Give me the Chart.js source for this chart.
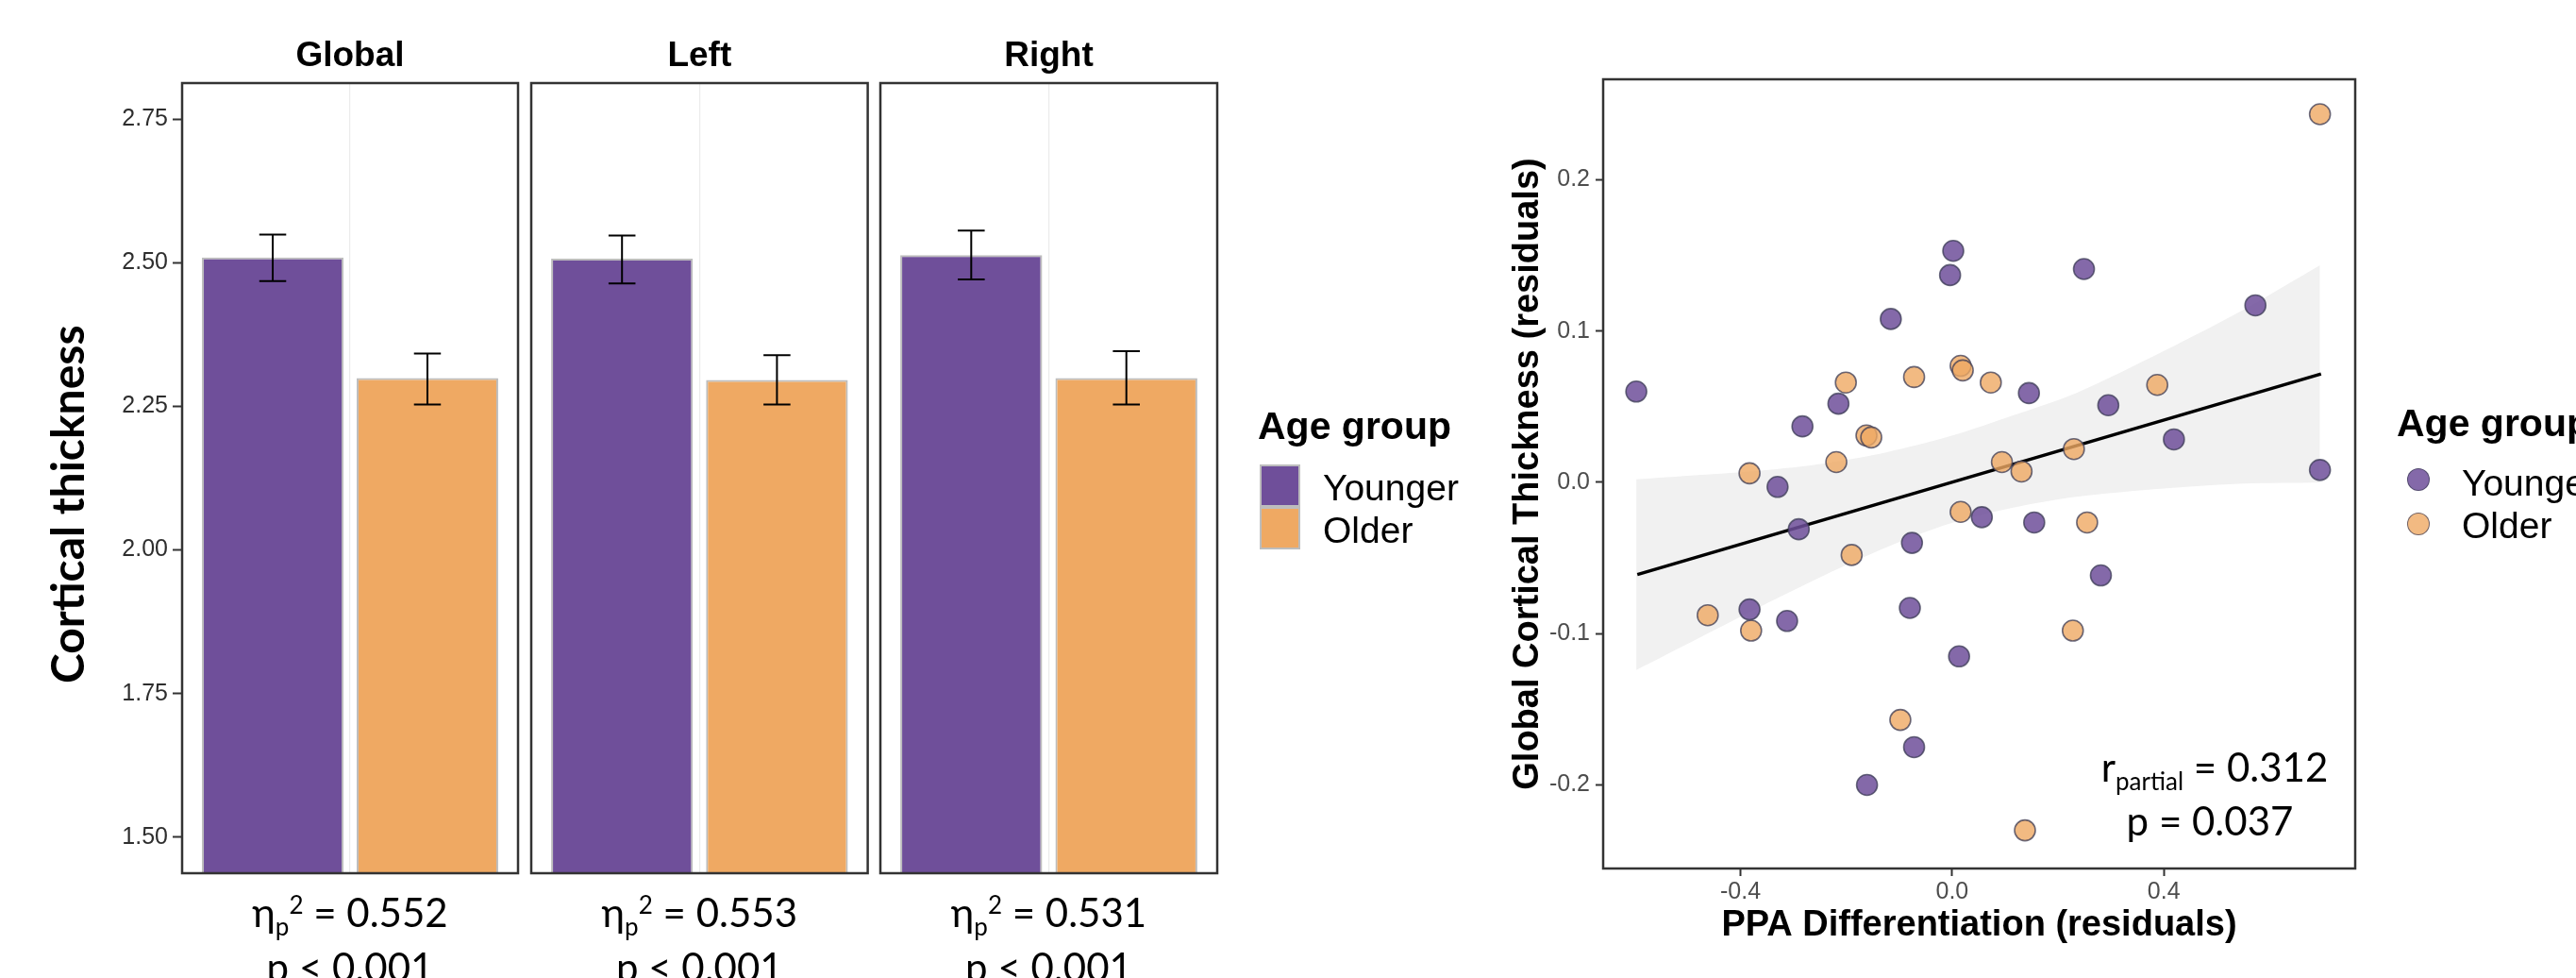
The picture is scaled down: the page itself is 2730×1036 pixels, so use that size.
<!DOCTYPE html>
<html><head><meta charset="utf-8">
<script src="https://cdn.jsdelivr.net/npm/chart.js@4.4.1/dist/chart.umd.min.js"></script>
<style>
html,body{margin:0;padding:0;width:2730px;height:1036px;overflow:hidden;background:#fff;}
canvas{position:absolute;top:0;}
.t{position:absolute;white-space:nowrap;line-height:1;color:#000;}
.box{position:absolute;box-sizing:border-box;}
</style></head><body>
<canvas id="cGlobal" width="556" height="1036" style="left:0px"></canvas>
<canvas id="cLeft" width="370" height="1036" style="left:556px"></canvas>
<canvas id="cRight" width="370" height="1036" style="left:926px"></canvas>
<canvas id="cScatter" width="1230" height="1036" style="left:1500px"></canvas>
<script>
// ---------------- data ----------------
const regions = ['Global', 'Left', 'Right'];
const groups = ['Younger', 'Older'];
const youngerMean = [2.509, 2.507, 2.513];
const youngerLow  = [2.468, 2.464, 2.471];
const youngerHigh = [2.549, 2.547, 2.556];
const olderMean   = [2.299, 2.296, 2.299];
const olderLow    = [2.253, 2.253, 2.253];
const olderHigh   = [2.342, 2.339, 2.346];
const etaValues = ['0.552', '0.553', '0.531'];
const pValues = ['< 0.001', '< 0.001', '< 0.001'];
const barTicks = [1.50, 1.75, 2.00, 2.25, 2.50, 2.75];
const barTickLabels = ['1.50', '1.75', '2.00', '2.25', '2.50', '2.75'];

const youngerX = [-0.597, 0.002, -0.004, 0.249, -0.116, 0.145, -0.215, 0.295, -0.283, -0.330, 0.056, 0.155, -0.290, -0.076, 0.281, -0.383, -0.080, -0.312, 0.013, -0.072, -0.161, 0.573, 0.419, 0.695];
const youngerY = [0.060, 0.153, 0.137, 0.141, 0.108, 0.059, 0.052, 0.051, 0.037, -0.003, -0.023, -0.0265, -0.031, -0.040, -0.0615, -0.084, -0.083, -0.0916, -0.115, -0.175, -0.200, 0.117, 0.0284, 0.0082];
const olderX = [0.016, 0.020, -0.201, -0.072, 0.073, -0.162, -0.153, -0.219, -0.383, 0.230, 0.094, 0.131, 0.016, 0.255, -0.190, -0.462, -0.380, 0.228, -0.098, 0.1375, 0.695, 0.3875];
const olderY = [0.077, 0.074, 0.066, 0.0696, 0.066, 0.031, 0.0297, 0.0134, 0.006, 0.022, 0.0134, 0.0072, -0.0195, -0.0265, -0.048, -0.0878, -0.098, -0.098, -0.157, -0.230, 0.2433, 0.0644];
const fitX = [-0.595, 0.697];
const fitY = [-0.0609, 0.0717];
const bandX     = [-0.597, -0.480, -0.361, -0.242, -0.123, -0.004, 0.115, 0.234, 0.40, 0.55, 0.695];
const bandUpper = [0.002, 0.0048, 0.0078, 0.0125, 0.0200, 0.0305, 0.0443, 0.059, 0.0868, 0.114, 0.1435];
const bandLower = [-0.124, -0.1031, -0.0819, -0.0615, -0.0428, -0.0272, -0.0167, -0.0095, -0.004, -0.0008, -0.0001];
const scatterXTicks = [-0.4, 0.0, 0.4];
const scatterXLabels = ['-0.4', '0.0', '0.4'];
const scatterYTicks = [-0.2, -0.1, 0.0, 0.1, 0.2];
const scatterYLabels = ['-0.2', '-0.1', '0.0', '0.1', '0.2'];
const rPartial = '0.312';
const pScatter = '0.037';

// ---------------- style ----------------
const PURPLE = '#6F4F9A', ORANGE = '#EFA963';
Chart.defaults.font.family = '"Liberation Sans", Arial, sans-serif';

const panelBorder = {
  id: 'panelBorder',
  afterDraw(chart) {
    const {ctx, chartArea: a} = chart;
    ctx.save(); ctx.strokeStyle = '#333'; ctx.lineWidth = 2.5;
    ctx.strokeRect(a.left, a.top, a.right - a.left, a.bottom - a.top);
    ctx.restore();
  }
};
function errorBars(idx) {
  return {
    id: 'errorBars',
    afterDatasetsDraw(chart) {
      const ctx = chart.ctx, ys = chart.scales.y;
      const lows = [youngerLow[idx], olderLow[idx]];
      const highs = [youngerHigh[idx], olderHigh[idx]];
      ctx.save(); ctx.strokeStyle = '#000'; ctx.lineWidth = 2;
      chart.data.datasets.forEach((ds, d) => {
        const bar = chart.getDatasetMeta(d).data[0];
        const x = bar.x, half = bar.width * 0.095;
        const yl = ys.getPixelForValue(lows[d]), yh = ys.getPixelForValue(highs[d]);
        ctx.beginPath();
        ctx.moveTo(x, yh); ctx.lineTo(x, yl);
        ctx.moveTo(x - half, yh); ctx.lineTo(x + half, yh);
        ctx.moveTo(x - half, yl); ctx.lineTo(x + half, yl);
        ctx.stroke();
      });
      ctx.restore();
    }
  };
}
function barChart(id, idx, showY, padL, padR) {
  return new Chart(document.getElementById(id), {
    type: 'bar',
    data: {
      labels: [regions[idx]],
      datasets: [
        {label: groups[0], data: [youngerMean[idx]], backgroundColor: PURPLE, borderColor: '#BDBDBD', borderWidth: 2, borderSkipped: 'start'},
        {label: groups[1], data: [olderMean[idx]], backgroundColor: ORANGE, borderColor: '#BDBDBD', borderWidth: 2, borderSkipped: 'start'}
      ]
    },
    options: {
      responsive: false, animation: false, devicePixelRatio: 1,
      layout: {padding: {top: 0, bottom: 111, left: padL, right: padR}},
      datasets: {bar: {categoryPercentage: 0.921, barPercentage: 0.915}},
      plugins: {
        legend: {display: false}, tooltip: {enabled: false},
        title: {display: true, fullSize: false, text: regions[idx], color: '#000', font: {size: 37, weight: 'bold'}, padding: {top: 37.5, bottom: 6.1}}
      },
      scales: {
        x: {display: true, offset: true, ticks: {display: false},
            grid: {display: true, offset: false, drawTicks: false, color: '#EBEBEB', lineWidth: 1.2},
            border: {display: false}, afterFit: s => { s.height = 0; }},
        y: {display: showY, min: 1.4375, max: 2.8125,
            afterBuildTicks: s => { s.ticks = barTicks.map(v => ({value: v})); },
            ticks: {callback: (v, i) => barTickLabels[i], color: '#2E2E2E', font: {size: 25}, padding: 5},
            grid: {drawOnChartArea: false, drawTicks: true, tickLength: 10, tickColor: '#333', tickWidth: 2},
            border: {display: false}, afterFit: s => { s.width = showY ? 193 : 0; }}
      }
    },
    plugins: [errorBars(idx), panelBorder]
  });
}
barChart('cGlobal', 0, true, 0, 7);
barChart('cLeft', 1, false, 7, 6.4);
barChart('cRight', 2, false, 7, 6);

new Chart(document.getElementById('cScatter'), {
  type: 'scatter',
  data: {
    datasets: [
      {label: groups[0], data: youngerX.map((x, i) => ({x, y: youngerY[i]})), backgroundColor: 'rgba(111,79,154,0.85)', borderColor: 'rgba(60,60,85,0.75)', borderWidth: 1.6, pointRadius: 11, order: 0},
      {label: groups[1], data: olderX.map((x, i) => ({x, y: olderY[i]})), backgroundColor: 'rgba(239,169,99,0.8)', borderColor: 'rgba(60,60,85,0.75)', borderWidth: 1.6, pointRadius: 11, order: 0},
      {type: 'line', label: 'fit', data: fitX.map((x, i) => ({x, y: fitY[i]})), borderColor: '#000', borderWidth: 3.5, pointRadius: 0, fill: false, order: 1},
      {type: 'line', label: 'ciUpper', data: bandX.map((x, i) => ({x, y: bandUpper[i]})), borderWidth: 0, borderColor: 'rgba(0,0,0,0)', pointRadius: 0, fill: '+1', backgroundColor: '#F1F1F1', tension: 0.3, order: 2},
      {type: 'line', label: 'ciLower', data: bandX.map((x, i) => ({x, y: bandLower[i]})), borderWidth: 0, borderColor: 'rgba(0,0,0,0)', pointRadius: 0, fill: false, tension: 0.3, order: 2}
    ]
  },
  options: {
    responsive: false, animation: false, devicePixelRatio: 1,
    layout: {padding: {top: 84, bottom: 32.2, left: 97.2, right: 234}},
    plugins: {legend: {display: false}, tooltip: {enabled: false}},
    scales: {
      x: {type: 'linear', min: -0.6596, max: 0.7616,
          afterBuildTicks: s => { s.ticks = scatterXTicks.map(v => ({value: v})); },
          ticks: {callback: (v, i) => scatterXLabels[i], color: '#4D4D4D', font: {size: 25}, padding: 2, maxRotation: 0, autoSkip: false},
          grid: {drawOnChartArea: false, drawTicks: true, tickLength: 8, tickColor: '#333', tickWidth: 2},
          border: {display: false},
          title: {display: true, text: 'PPA Differentiation (residuals)', color: '#000', font: {size: 38, weight: 'bold'}, padding: 0},
          afterFit: s => { s.height = 83.8; }},
      y: {type: 'linear', min: -0.2552, max: 0.2664,
          afterBuildTicks: s => { s.ticks = scatterYTicks.map(v => ({value: v})); },
          ticks: {callback: (v, i) => scatterYLabels[i], color: '#4D4D4D', font: {size: 25}, padding: 6},
          grid: {drawOnChartArea: false, drawTicks: true, tickLength: 8, tickColor: '#333', tickWidth: 2},
          border: {display: false},
          title: {display: true, text: 'Global Cortical Thickness (residuals)', color: '#000', font: {size: 38, weight: 'bold'}, padding: 0},
          afterFit: s => { s.width = 101.8; }}
    }
  },
  plugins: [panelBorder]
});

// ---------------- HTML text annotations ----------------
const CAL = 'Lato, "Open Sans", "Noto Sans", sans-serif';
const ARI = '"Liberation Sans", Arial, sans-serif';
function addText(html, o) {
  const d = document.createElement('div');
  d.className = 't';
  d.style.fontFamily = o.family; d.style.fontSize = o.size + 'px';
  d.style.fontWeight = o.weight || 'normal';
  d.innerHTML = '<span class="m" style="display:inline-block;width:0;height:0;vertical-align:baseline"></span>' + html;
  d.style.left = '0px'; d.style.top = '0px';
  document.body.appendChild(d);
  const r = d.getBoundingClientRect();
  const b = d.querySelector('.m').getBoundingClientRect().top - r.top;
  const w = r.width;
  if (o.rotate) {
    const cap = o.size * 0.72;
    d.style.transformOrigin = '0 0';
    d.style.transform = 'rotate(-90deg)';
    d.style.left = (o.x - (b - cap / 2)) + 'px';
    d.style.top = (o.cy + w / 2) + 'px';
  } else {
    d.style.left = (o.align === 'center' ? o.x - w / 2 : o.x) + 'px';
    d.style.top = (o.baseline - b) + 'px';
  }
  return d;
}
const sub = t => '<span style="font-size:26px;vertical-align:-9px">' + t + '</span>';
const sup = t => '<span style="font-size:26px;vertical-align:14px">' + t + '</span>';

addText('Cortical thickness', {family: CAL, size: 48, weight: 'bold', rotate: true, x: 72, cy: 534});
const panelCenters = [371, 741.3, 1111.5];
regions.forEach((r, i) => {
  addText('η' + sub('p') + sup('2') + ' = ' + etaValues[i], {family: CAL, size: 42, align: 'center', x: panelCenters[i], baseline: 981.7});
  addText('p ' + pValues[i].replace('<', '&lt;'), {family: CAL, size: 42, align: 'center', x: panelCenters[i], baseline: 1040});
});
addText('r' + sub('partial') + ' = ' + rPartial, {family: CAL, size: 42, align: 'center', x: 2347, baseline: 828});
addText('p = ' + pScatter, {family: CAL, size: 42, align: 'center', x: 2342, baseline: 884.6});

// bar legend
addText('Age group', {family: ARI, size: 41, weight: 'bold', x: 1333, baseline: 465});
[[PURPLE, 492], [ORANGE, 537]].forEach(([c, t]) => {
  const b = document.createElement('div'); b.className = 'box';
  b.style.cssText += `left:1335px;top:${t}px;width:43px;height:45px;background:${c};border:2px solid #BDBDBD;`;
  document.body.appendChild(b);
});
addText(groups[0], {family: ARI, size: 39, x: 1402, baseline: 530});
addText(groups[1], {family: ARI, size: 39, x: 1402, baseline: 575});

// scatter legend
addText('Age group', {family: ARI, size: 41, weight: 'bold', x: 2540, baseline: 462});
[['rgba(111,79,154,0.85)', 508], ['rgba(239,169,99,0.8)', 555]].forEach(([c, cy]) => {
  const b = document.createElement('div'); b.className = 'box';
  b.style.cssText += `left:${2563 - 12}px;top:${cy - 12}px;width:24px;height:24px;border-radius:50%;background:${c};border:1.5px solid rgba(60,60,85,0.7);`;
  document.body.appendChild(b);
});
addText(groups[0], {family: ARI, size: 39, x: 2609, baseline: 525});
addText(groups[1], {family: ARI, size: 39, x: 2609, baseline: 570});
</script>
</body></html>
